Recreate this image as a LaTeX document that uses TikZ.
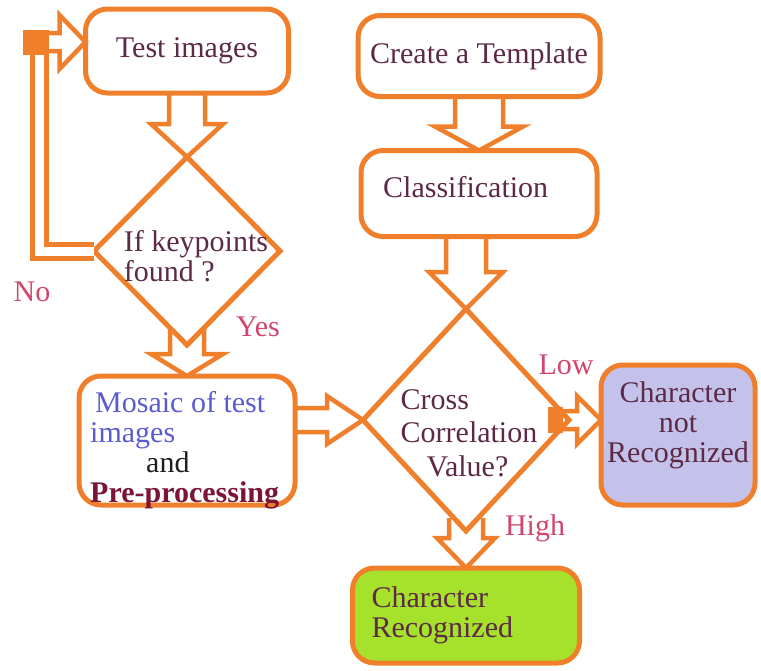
\documentclass[tikz,border=0pt]{standalone}
\usepackage{fontspec}
\setmainfont{Liberation Serif}
\usetikzlibrary{positioning, calc, shapes.geometric}

\definecolor{flowOrange}{HTML}{F07F2C}
\definecolor{textInk}{HTML}{5C2A46}
\definecolor{labelPink}{HTML}{D2466E}
\definecolor{mosaicBlue}{HTML}{5B5BD0}
\definecolor{boldRed}{HTML}{7A1535}
\definecolor{andInk}{HTML}{1E1E1E}
\definecolor{lavFill}{HTML}{C4C2EA}
\definecolor{greenFill}{HTML}{A6E22C}

\newcommand{\flowFont}{\fontsize{30}{30}\selectfont}

% hollow block arrow: from, to, shaft half width, head half width, head length
\newcommand{\blockarrow}[5]{%
  \path ($(#2)!#5!(#1)$) coordinate (neck);
  \draw[Hollow] ($(#1)!#3!90:(#2)$) -- ($(neck)!#3!90:(#2)$)
    -- ($(neck)!#4!90:(#2)$) -- (#2) -- ($(neck)!#4!-90:(#2)$)
    -- ($(neck)!#3!-90:(#2)$) -- ($(#1)!#3!-90:(#2)$);
}

\tikzset{
    Box/.style = {
        draw=flowOrange, line width=5pt, rounded corners=22pt,
        text=textInk, font=\flowFont, inner xsep=6pt, outer sep=0pt
    },
    Decision/.style = {
        diamond, draw=flowOrange, line width=5pt,
        inner sep=0pt, outer sep=0pt
    },
    Inside/.style = {font=\flowFont, text=textInk, inner sep=0pt},
    Hollow/.style = {draw=flowOrange, line width=4.5pt, line join=miter},
    LoopLine/.style = {
        draw=flowOrange, line width=5pt,
        double=white, double distance=9pt
    },
    Stub/.style = {fill=flowOrange, inner sep=0pt, outer sep=0pt},
    Branch/.style = {text=labelPink, font=\flowFont}
}

\begin{document}
\begin{tikzpicture}[x=1pt, y=-1pt]
    \useasboundingbox (0,0) rectangle (761,670);
    % left column
    \node[Box, minimum width=203pt, minimum height=84pt] (T) at (187,51) {Test images};
    \node[Decision, minimum width=186pt, minimum height=188pt, below=64pt of T] (K) {};
    \node[Inside, align=left] (Kt) at ($(K)+(9,5)$) {If keypoints\\found ?};
    \node[Box, minimum width=216pt, minimum height=129pt, below=31pt of K] (M) {};
    \node[Inside, align=left, anchor=west] (Mt) at ($(M.west)+(11,10)$)
          {\hspace*{5pt}\textcolor{mosaicBlue}{Mosaic of test}\\
           \textcolor{mosaicBlue}{images}\\
           \hspace*{56pt}\textcolor{andInk}{and}\\
           \textcolor{boldRed}{\textbf{Pre-processing}}};
    % right column
    \node[Box, minimum width=242pt, minimum height=81pt] (P) at (479,56) {Create a Template};
    \node[Box, minimum width=236pt, minimum height=86pt, below=54pt of P] (C) {};
    \node[Inside, anchor=west] (Ct) at ($(C.west)+(22,-6)$) {Classification};
    \node[Decision, minimum width=206pt, minimum height=222pt] (X) at (466,420) {};
    \node[Inside, align=left] (Xt) at ($(X)+(3,13)$)
          {Cross\\[3pt]Correlation\\[4pt]\hspace*{26pt}Value?};
    \node[Box, fill=lavFill, minimum width=154pt, minimum height=140pt,
          right=32pt of X, yshift=-15pt] (N) {};
    \node[Inside, align=center] (Nt) at ($(N)+(0,-10)$) {Character\\not\\Recognized};
    \node[Box, fill=greenFill, minimum width=227pt, minimum height=95pt, text width=189pt,
          inner xsep=19pt, align=left, below=37pt of X] (R) {Character\\Recognized};

    % flow arrows
    \blockarrow{T.south}{K.north}{18pt}{36pt}{33pt}
    \coordinate (Kfoot) at ($(K.south)!17pt!(K.north)$);
    \blockarrow{Kfoot}{M.north}{17pt}{36pt}{22pt}
    \blockarrow{P.south}{C.north}{24pt}{44pt}{24pt}
    \coordinate (Ctop) at (X.north |- C.south);
    \blockarrow{Ctop}{X.north}{20pt}{37pt}{37pt}
    \coordinate (Mout) at (M.east |- X.west);
    \blockarrow{Mout}{X.west}{12pt}{24pt}{36pt}
    \coordinate (Xfoot) at ($(X.south)!13pt!(X.north)$);
    \blockarrow{Xfoot}{R.north}{17pt}{29pt}{30pt}

    % no -> back to the test images
    \node[Stub, minimum width=26pt, minimum height=25pt] (S1) at (36,42) {};
    \draw[LoopLine] (K.west) -| ($(S1.south)+(3,0)$);
    \coordinate (Tin) at (S1.east -| T.west);
    \blockarrow{S1.east}{Tin}{9pt}{27pt}{26pt}

    % low -> not recognized
    \node[Stub, minimum width=15pt, minimum height=26pt, left=6pt of X.east] (S2) {};
    \coordinate (Nin) at (S2.east -| N.west);
    \blockarrow{S2.east}{Nin}{9pt}{24pt}{24pt}

    \node[Branch] (no) at (32,292) {No};
    \node[Branch] (yes) at (258,327) {Yes};
    \node[Branch] (low) at (566,365) {Low};
    \node[Branch] (high) at (535,528) {High};
\end{tikzpicture}
\end{document}
